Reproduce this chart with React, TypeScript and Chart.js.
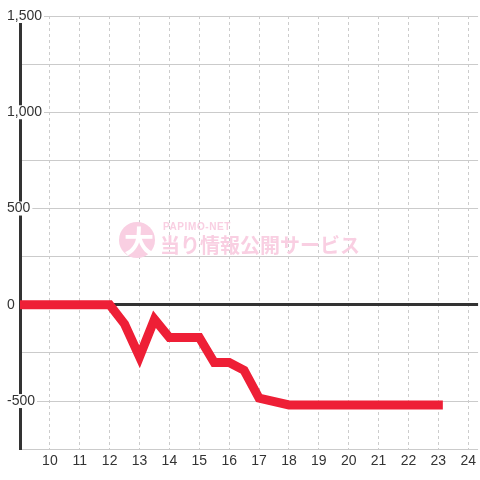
import React, { useEffect, useRef } from 'react';
import { Chart, registerables } from 'chart.js';

Chart.register(...registerables);

// ---- data ----
const hours = [9, 12, 12.5, 13, 13.5, 14, 15, 15.5, 16, 16.5, 17, 18, 23];
const balance = [0, 0, -100, -270, -75, -170, -170, -300, -300, -340, -485, -520, -520];
const xMin = 9;
const xMax = 24.33;
const yMin = -750;
const yMax = 1500;
const yGridStep = 250;
const yLabelStep = 500;
const watermarkLogo = '大';
const watermarkSmall = 'PAPIMO-NET';
const watermarkBig = '当り情報公開サービス';

const FONT = '"Liberation Sans", Arial, sans-serif';
const PINK = '#f9cfe2';

const watermarkPlugin = {
  id: 'watermark',
  beforeDatasetsDraw(chart: any) {
    const { ctx } = chart;
    ctx.save();
    const lx = 137;
    const ly = 240;
    ctx.fillStyle = PINK;
    ctx.beginPath();
    ctx.arc(lx, ly, 18, 0, Math.PI * 2);
    ctx.fill();
    ctx.fillStyle = '#ffffff';
    ctx.font = 'bold 30px "Noto Sans CJK JP", sans-serif';
    ctx.textAlign = 'center';
    ctx.textBaseline = 'middle';
    ctx.fillText(watermarkLogo, lx + 2, ly + 1);
    ctx.fillStyle = PINK;
    ctx.textAlign = 'left';
    ctx.font = 'bold 10px "Liberation Sans Narrow", "Liberation Sans", sans-serif';
    try { (ctx as any).letterSpacing = '0.6px'; } catch (e) {}
    ctx.fillText(watermarkSmall, 163, 227);
    try { (ctx as any).letterSpacing = '0px'; } catch (e) {}
    ctx.font = 'bold 20px "Noto Sans CJK JP", sans-serif';
    ctx.fillText(watermarkBig, 160, 245);
    ctx.restore();
  },
};

export default function App() {
  const ref = useRef<HTMLCanvasElement | null>(null);

  useEffect(() => {
    if (!ref.current) return;
    const chart = new Chart(ref.current, {
      type: 'line',
      data: {
        datasets: [
          {
            data: hours.map((h, i) => ({ x: h, y: balance[i] })),
            borderColor: '#ee1f36',
            borderWidth: 9,
            borderCapStyle: 'square',
            borderJoinStyle: 'miter',
            pointRadius: 0,
            tension: 0,
            fill: false,
          },
        ],
      },
      options: {
        responsive: false,
        animation: false,
        devicePixelRatio: 1,
        layout: { padding: { left: 20, top: 16, right: 0, bottom: 6 } },
        plugins: {
          legend: { display: false },
          tooltip: { enabled: false },
        },
        scales: {
          x: {
            type: 'linear',
            min: xMin,
            max: xMax,
            border: { display: false, dash: [3, 3] },
            grid: {
              drawTicks: false,
              color: (c: any) => (c.tick && c.tick.value === xMin ? 'rgba(0,0,0,0)' : '#cccccc'),
              lineWidth: 1,
            },
            ticks: {
              stepSize: 1,
              includeBounds: false,
              autoSkip: false,
              maxRotation: 0,
              padding: 4,
              color: '#333333',
              font: { family: FONT, size: 14 },
              callback: (v: any) => (v === xMin ? '' : String(v)),
            },
          },
          y: {
            type: 'linear',
            min: yMin,
            max: yMax,
            afterFit: (scale: any) => {
              scale.width = 0;
              scale.paddingTop = 0;
              scale.paddingBottom = 0;
            },
            border: { display: true, color: '#333333', width: 3 },
            grid: {
              drawTicks: false,
              color: (c: any) => (c.tick && c.tick.value === 0 ? '#333333' : '#cbcbcb'),
              lineWidth: (c: any) => (c.tick && c.tick.value === 0 ? 3 : 1),
            },
            ticks: {
              stepSize: yGridStep,
              mirror: true,
              padding: -13,
              crossAlign: 'near',
              color: '#333333',
              font: { family: FONT, size: 14, lineHeight: 1 },
              showLabelBackdrop: true,
              backdropColor: (c: any) =>
                c.tick && c.tick.value % yLabelStep === 0 ? '#ffffff' : 'rgba(0,0,0,0)',
              backdropPadding: { top: 0, bottom: 0, left: 1, right: 2 },
              callback: (v: any) =>
                v % yLabelStep === 0 ? Number(v).toLocaleString('en-US') : '',
            },
          },
        },
      },
      plugins: [watermarkPlugin],
    } as any);
    return () => chart.destroy();
  }, []);

  return (
    <div style={{ position: 'absolute', left: 0, top: 0, width: 480, height: 480, background: '#ffffff' }}>
      <canvas ref={ref} width={480} height={480} style={{ width: 480, height: 480, display: 'block' }} />
    </div>
  );
}
